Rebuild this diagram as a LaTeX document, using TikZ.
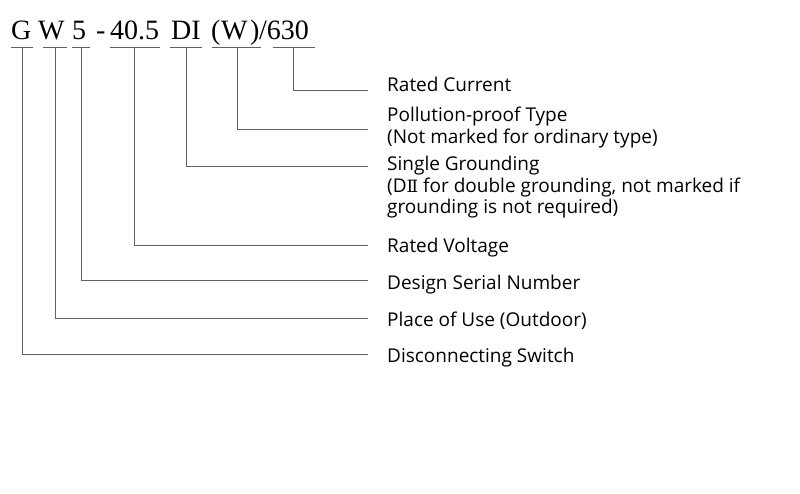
\documentclass[tikz,border=0pt]{standalone}
\usepackage{fontspec}
\setmainfont{Open Sans}
\newfontfamily\codefont{Liberation Serif}
\newfontfamily\dvserif{DejaVu Serif}
\begin{document}
\begin{tikzpicture}[x=1pt,y=-1pt,
  code/.style={font=\codefont\fontsize{28}{28}\selectfont, inner sep=0pt, anchor=base west},
  lbl/.style={font=\fontsize{19}{21.5}\selectfont, inner sep=0pt, anchor=base west, align=left},
  conn/.style={draw=black!62, line width=0.9pt}]
\useasboundingbox (0,0) rectangle (800,494);
\fill[white] (0,0) rectangle (800,494);

% model code
\node[code] (cG)   at (11,40)  {G};
\node[code] (cW)   at (38,40)  {W};
\node[code] (c5)   at (72,40)  {5};
\node[code] (cdash) at (96,40) {-};
\node[code] (c40)  at (110,40) {40.5};
\node[code] (cDI)  at (171,40) {DI};
\node[code] (cLP)  at (211,40) {(};
\node[code] (cW2)  at (221,40) {W};
\node[code] (cRP)  at (250,40) {)};
\node[code] (c630) at (259,40) {/630};

% underline coordinates
\coordinate (uG1) at (11,47);  \coordinate (uG2) at (33,47);  \coordinate (tG) at (22,47);
\coordinate (uW1) at (43,47);  \coordinate (uW2) at (67,47);  \coordinate (tW) at (55,47);
\coordinate (u51) at (72,47);  \coordinate (u52) at (90,47);  \coordinate (t5) at (81.5,47);
\coordinate (uV1) at (110,47); \coordinate (uV2) at (160,47); \coordinate (tV) at (134,47);
\coordinate (uD1) at (170,47); \coordinate (uD2) at (202,47); \coordinate (tD) at (186,47);
\coordinate (uP1) at (212,47); \coordinate (uP2) at (261,47); \coordinate (tP) at (237,47);
\coordinate (uC1) at (273,47); \coordinate (uC2) at (315,47); \coordinate (tC) at (293.5,47);

% line ends
\coordinate (eC) at (368,90.5);
\coordinate (eP) at (368,129);
\coordinate (eD) at (368,166);
\coordinate (eV) at (368,245);
\coordinate (e5) at (368,280);
\coordinate (eW) at (368,318);
\coordinate (eG) at (368,354);

% underlines
\foreach \a/\b in {uG1/uG2,uW1/uW2,u51/u52,uV1/uV2,uD1/uD2,uP1/uP2,uC1/uC2}
  \draw[conn] (\a) -- (\b);

% connectors
\draw[conn] (tC) |- (eC);
\draw[conn] (tP) |- (eP);
\draw[conn] (tD) |- (eD);
\draw[conn] (tV) |- (eV);
\draw[conn] (t5) |- (e5);
\draw[conn] (tW) |- (eW);
\draw[conn] (tG) |- (eG);

% labels (base anchor of a multi-line node = baseline of its last line)
\node[lbl] (lC) at (387,92)    {Rated Current};
\node[lbl] (lP) at (387,143.5) {Pollution-proof Type\\(Not marked for ordinary type)};
\node[lbl] (lD) at (387,214)   {Single Grounding\\(D{\dvserif\fontsize{17}{17}\selectfont Ⅱ} for double grounding, not marked if\\grounding is not required)};
\node[lbl] (lV) at (387,253) {Rated Voltage};
\node[lbl] (l5) at (387,289) {Design Serial Number};
\node[lbl] (lW) at (387,326) {Place of Use (Outdoor)};
\node[lbl] (lG) at (387,362) {Disconnecting Switch};
\end{tikzpicture}
\end{document}
